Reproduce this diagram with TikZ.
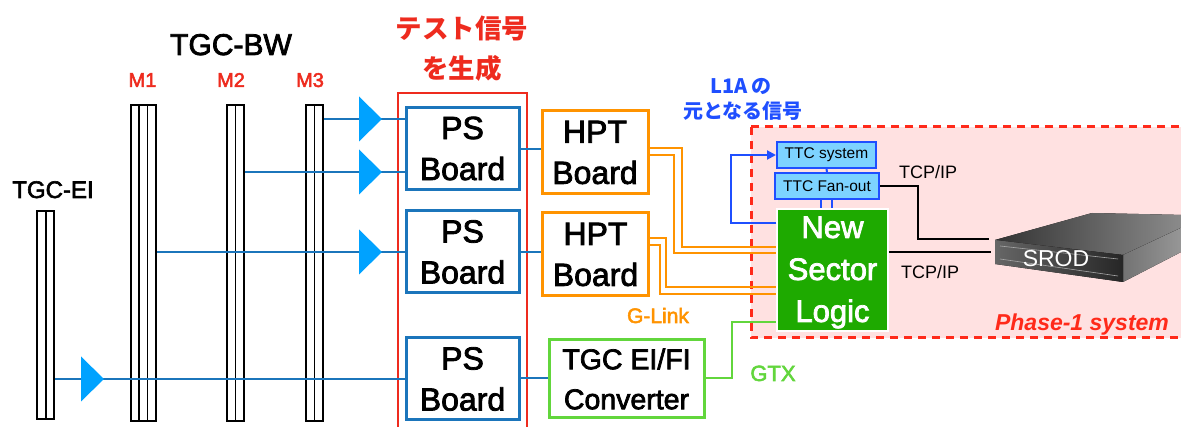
\documentclass[tikz,border=0pt]{standalone}
\usepackage{fontspec}
\setmainfont{Liberation Sans}
\newfontfamily\semib[FakeBold=2.5]{Liberation Sans}
\newfontfamily\jpfont{Noto Sans CJK JP}
\usetikzlibrary{arrows.meta}

\definecolor{psblue}{HTML}{1B75BB}
\definecolor{triblue}{HTML}{00A2FF}
\definecolor{testred}{HTML}{EE2B1E}
\definecolor{hptorange}{HTML}{FF9300}
\definecolor{convgreen}{HTML}{62D63C}
\definecolor{nslgreen}{HTML}{1EAA00}
\definecolor{ttcfill}{HTML}{7DD3FF}
\definecolor{ttcblue}{HTML}{1F4FFF}
\definecolor{phasepink}{HTML}{FFE1E1}
\definecolor{phasered}{HTML}{FF2A1A}

\tikzset{
  bar/.style={draw=black, line width=1.6pt, fill=white, inner sep=0pt, minimum width=8.5pt},
  sig/.style={draw=psblue, line width=1.8pt},
  psbox/.style={draw=psblue, line width=3pt, fill=white, inner sep=0pt, align=center,
    minimum width=113pt, minimum height=82pt, font=\semib\fontsize{32}{41}\selectfont},
  hptbox/.style={draw=hptorange, line width=3pt, fill=white, inner sep=0pt, align=center,
    minimum width=106pt, minimum height=83pt, font=\semib\fontsize{32}{41}\selectfont},
  convbox/.style={draw=convgreen, line width=3pt, fill=white, inner sep=0pt, align=center,
    minimum width=155pt, minimum height=78pt, font=\semib\fontsize{28.5}{40}\selectfont},
  nslbox/.style={draw=white, line width=1.5pt, fill=nslgreen, inner sep=0pt,
    minimum width=111pt, minimum height=122pt},
  nsltext/.style={text=white, inner sep=0pt, align=center, font=\semib\fontsize{31}{42}\selectfont},
  ttcbox/.style={draw=ttcblue, line width=2pt, fill=ttcfill, inner sep=0pt,
    minimum height=26pt, font=\fontsize{15.5}{18}\selectfont},
  glink/.style={draw=hptorange, line width=1.7pt},
  gtx/.style={draw=convgreen, line width=1.7pt},
  fb/.style={draw=ttcblue, line width=2pt, -{Triangle[length=9pt,width=9pt]}},
  tcp/.style={draw=black, line width=2pt},
  lbl/.style={inner sep=0pt, anchor=base},
  tri/.pic={\fill[triblue] (0,0) -- (-23,-22.5) -- (-23,22.5) -- cycle;}
}

\begin{document}
\begin{tikzpicture}[x=1pt,y=-1pt]
\useasboundingbox (0,0) rectangle (1181,427);
\clip (0,0) rectangle (1181,427);
\fill[white] (0,0) rectangle (1181,427);

% Phase-1 system area
\fill[phasepink] (751,127) rectangle (1195,338);
\draw[phasered, line width=3pt, dash pattern=on 8pt off 6pt] (751,127) rectangle (1195,338);

% test-signal generation frame
\draw[testred, line width=1.8pt] (398,93) rectangle (527,440);

% headings
\node[lbl, font=\semib\fontsize{30}{34}\selectfont] (bwlabel) at (231,55) {TGC-BW};
\node[lbl, text=testred, font=\semib\fontsize{20}{24}\selectfont] (m1label) at (142.5,87) {M1};
\node[lbl, text=testred, font=\semib\fontsize{20}{24}\selectfont] (m2label) at (231,87) {M2};
\node[lbl, text=testred, font=\semib\fontsize{20}{24}\selectfont] (m3label) at (310,87) {M3};
\node[lbl, font=\semib\fontsize{24}{28}\selectfont] (eilabel) at (53,198) {TGC-EI};
\node[inner sep=0pt, text=testred, font=\jpfont\bfseries\fontsize{26.5}{30}\selectfont] (test1) at (462,28) {テスト信号};
\node[inner sep=0pt, text=testred, font=\jpfont\bfseries\fontsize{26.5}{30}\selectfont] (test2) at (462,68.5) {を生成};
\node[inner sep=0pt, text=ttcblue, font=\jpfont\bfseries\fontsize{20}{24}\selectfont] (l1a1) at (741,87) {L1A の};
\node[inner sep=0pt, text=ttcblue, font=\jpfont\bfseries\fontsize{20}{24}\selectfont] (l1a2) at (743,111) {元となる信号};

% chambers
\node[bar, minimum height=208pt] (EIa) at (41.5,315) {};
\node[bar, minimum height=208pt] (EIb) at (50,315) {};
\node[bar, minimum height=316pt] (M1a) at (135.2,263) {};
\node[bar, minimum height=316pt] (M1b) at (143.5,263) {};
\node[bar, minimum height=316pt] (M1c) at (151.8,263) {};
\node[bar, minimum height=316pt] (M2a) at (231.2,263) {};
\node[bar, minimum height=316pt] (M2b) at (239.8,263) {};
\node[bar, minimum height=316pt] (M3a) at (310.2,263) {};
\node[bar, minimum height=316pt] (M3b) at (318.8,263) {};

% boards
\node[psbox] (PS1) at (462.5,148.5) {PS\\Board};
\node[psbox] (PS2) at (462.5,252) {PS\\Board};
\node[psbox] (PS3) at (462.5,379) {PS\\Board};
\node[hptbox] (HPT1) at (595,152.5) {HPT\\Board};
\node[hptbox] (HPT2) at (595.5,254.5) {HPT\\Board};
\node[convbox] (Conv) at (626.5,379) {TGC EI/FI\\Converter};

% row heights of the chamber read-out lines
\coordinate (r1) at (0,119);
\coordinate (r2) at (0,172);
\coordinate (r3) at (0,252);
\coordinate (r4) at (0,379);

\draw[sig] (M3b.east |- r1) -- (PS1.west |- r1);
\draw[sig] (M2b.east |- r2) -- (PS1.west |- r2);
\draw[sig] (M1c.east |- r3) -- (PS2.west |- r3);
\draw[sig] (EIb.east |- r4) -- (PS3.west |- r4);
\pic at (382,119) {tri};
\pic at (382,172) {tri};
\pic at (382,252) {tri};
\pic at (104,379) {tri};

\draw[sig] (PS1.east |- 0,149) -- (HPT1.west |- 0,149);
\draw[sig] (PS2.east) -- (PS2.east -| HPT2.west);
\draw[sig] (PS3.east |- 0,378) -- (Conv.west |- 0,378);

% Phase-1 boards
\node[ttcbox, minimum width=99pt] (TTCsys) at (826.5,155) {TTC system};
\node[ttcbox, minimum width=104pt] (TTCfan) at (827,186) {TTC Fan-out};
\node[nslbox] (NSL) at (832.5,270) {};
\node[nsltext] (NSLtext) at (832.5,272.5) {New\\Sector\\Logic};

\draw[ttcblue, line width=2pt] (TTCsys.south) -- (TTCfan.north);
\draw[ttcblue, line width=2pt] ([xshift=-6pt]TTCfan.south) -- ([xshift=-6pt]TTCfan.south |- NSL.north);
\draw[ttcblue, line width=2pt] ([xshift=5pt]TTCfan.south) -- ([xshift=5pt]TTCfan.south |- NSL.north);

% G-Link pairs
\coordinate (n1) at (0,247);
\coordinate (n2) at (0,253);
\coordinate (n3) at (0,287);
\coordinate (n4) at (0,294);
\draw[glink] (HPT1.east |- 0,148) -- (682,148) |- (NSL.west |- n1);
\draw[glink] (HPT1.east |- 0,155) -- (674,155) |- (NSL.west |- n2);
\draw[glink] (HPT2.east |- 0,238) -- (666,238) |- (NSL.west |- n3);
\draw[glink] (HPT2.east |- 0,245) -- (660,245) |- (NSL.west |- n4);

% GTX link
\coordinate (g1) at (0,322);
\draw[gtx] (Conv.east |- 0,378) -- (732,378) |- (NSL.west |- g1);

% L1A source loop
\coordinate (fy) at (0,223);
\draw[fb] (NSL.west |- fy) -| (731,155) -- (TTCsys.west);

% SROD server
\fill[left color=black!80, right color=black!45] (995,240) -- (1092,213) -- (1185,215) -- (1185,226) -- (1123,255) -- cycle;
\fill[left color=black!55, right color=black!40] (1123,255) -- (1185,226) -- (1185,250) -- (1123,282) -- cycle;
\fill[left color=black!60, right color=black!85] (995,240) -- (1123,255) -- (1123,282) -- (995,264) -- cycle;
\draw[black!35, line width=0.6pt] (1000,246) -- (1118,259);
\draw[black!35, line width=0.6pt] (1000,259) -- (1118,276);
\node[lbl, text=white, font=\fontsize{23}{26}\selectfont] (srod) at (1056,267) {SROD};
\coordinate (srodA) at (989,239);
\coordinate (srodB) at (991,252);

\draw[tcp] (TTCfan.east) -| (918,239) -- (srodA);
\draw[tcp] (NSL.east |- srodB) -- (srodB);

% link labels
\node[lbl, font=\fontsize{18}{22}\selectfont] (tcp1) at (928,179) {TCP/IP};
\node[lbl, font=\fontsize{18}{22}\selectfont] (tcp2) at (930,279) {TCP/IP};
\node[lbl, text=hptorange, font=\semib\fontsize{21}{24}\selectfont] (glinklabel) at (658,323) {G-Link};
\node[lbl, text=convgreen, font=\semib\fontsize{22}{24}\selectfont] (gtxlabel) at (773,381) {GTX};
\node[lbl, text=phasered, font=\bfseries\itshape\fontsize{23}{26}\selectfont] (phase) at (1082,331) {Phase-1 system};
\end{tikzpicture}
\end{document}
